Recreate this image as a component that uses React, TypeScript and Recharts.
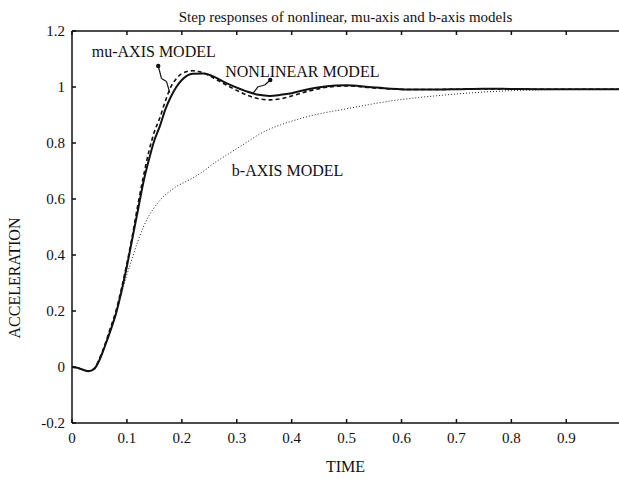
import React from 'react';
import { LineChart, Line, XAxis, YAxis, ReferenceLine, ReferenceDot, Label } from 'recharts';

// time axis (s)
const time = [
  0, 0.01, 0.02, 0.03, 0.04, 0.05, 0.06, 0.07, 0.08, 0.09, 0.1, 0.11, 0.12, 0.13, 0.14, 0.15,
  0.16, 0.17, 0.18, 0.19, 0.2, 0.22, 0.24, 0.26, 0.28, 0.3, 0.32, 0.34, 0.36, 0.38, 0.4, 0.43,
  0.46, 0.5, 0.54, 0.58, 0.62, 0.66, 0.7, 0.75, 0.8, 0.85, 0.9, 0.95, 1.0,
];

const nonlinear = [
  0, -0.003, -0.01, -0.015, -0.008, 0.025, 0.075, 0.13, 0.19, 0.27, 0.36, 0.46, 0.56, 0.66, 0.74, 0.81,
  0.86, 0.92, 0.965, 1.0, 1.025, 1.047, 1.048, 1.035, 1.015, 0.998, 0.983, 0.972, 0.968, 0.972, 0.978, 0.992,
  1.002, 1.006, 1.0, 0.994, 0.991, 0.991, 0.992, 0.994, 0.993, 0.992, 0.992, 0.992, 0.992,
];

const muAxis = [
  0, -0.003, -0.01, -0.014, -0.006, 0.03, 0.08, 0.14, 0.2, 0.28, 0.37, 0.47, 0.58, 0.68, 0.77, 0.84,
  0.89, 0.95, 1.0, 1.03, 1.048, 1.058, 1.05, 1.03, 1.008, 0.988, 0.97, 0.958, 0.954, 0.958, 0.968, 0.985,
  0.998, 1.004, 0.998, 0.993, 0.991, 0.991, 0.992, 0.993, 0.993, 0.992, 0.992, 0.992, 0.992,
];

const bAxis = [
  0, -0.003, -0.01, -0.015, -0.008, 0.025, 0.075, 0.13, 0.19, 0.26, 0.33, 0.39, 0.45, 0.5, 0.54, 0.57,
  0.595, 0.615, 0.63, 0.645, 0.655, 0.675, 0.7, 0.73, 0.755, 0.78, 0.805, 0.83, 0.85, 0.865, 0.878, 0.895,
  0.908, 0.922, 0.937, 0.95, 0.96, 0.968, 0.975, 0.982, 0.987, 0.99, 0.991, 0.992, 0.992,
];

const xTicks = [0, 0.1, 0.2, 0.3, 0.4, 0.5, 0.6, 0.7, 0.8, 0.9];
const yTicks = [-0.2, 0, 0.2, 0.4, 0.6, 0.8, 1, 1.2];

// leader lines from the labels to the curves
const muPointer = [
  { x: 0.157, y: 1.075 },
  { x: 0.163, y: 1.03 },
  { x: 0.172, y: 1.02 },
  { x: 0.178, y: 0.98 },
];
const nlPointer = [
  { x: 0.361, y: 1.025 },
  { x: 0.351, y: 1.007 },
  { x: 0.339, y: 1.001 },
  { x: 0.33, y: 0.979 },
];

const data = time.map((t, i) => ({ t, nl: nonlinear[i], mu: muAxis[i], b: bAxis[i] }));

const font = '"Liberation Serif", "Times New Roman", serif';

const fmt = (v: number) => (v === 0 ? '0' : v === 1 ? '1' : v.toFixed(1));

const App: React.FC = () => {
  return (
    <div style={{ position: 'absolute', left: 0, top: 0, width: 619, height: 480, background: '#fff', fontFamily: font }}>
      <div
        style={{
          position: 'absolute',
          left: 72,
          width: 547,
          top: 9,
          textAlign: 'center',
          fontSize: 15,
          lineHeight: '17px',
          color: '#111',
        }}
      >
        Step responses of nonlinear, mu-axis and b-axis models
      </div>
      <div
        style={{
          position: 'absolute',
          left: 15,
          top: 278,
          transform: 'translate(-50%, -50%) rotate(-90deg)',
          whiteSpace: 'nowrap',
          fontSize: 16,
          color: '#111',
        }}
      >
        ACCELERATION
      </div>
      <LineChart
        width={619}
        height={480}
        data={data}
        margin={{ top: 30, right: 0, bottom: 27, left: 8 }}
        style={{ fontFamily: font }}
      >
        <XAxis
          dataKey="t"
          type="number"
          domain={[0, 0.996]}
          allowDataOverflow
          ticks={xTicks}
          tickFormatter={fmt}
          height={30}
          stroke="#111"
          strokeWidth={1.5}
          tickSize={-4}
          tickMargin={13}
          tick={{ fill: '#111', fontSize: 15 }}
        >
          <Label value="TIME" position="bottom" offset={8} style={{ fill: '#111', fontSize: 16 }} />
        </XAxis>
        <XAxis
          xAxisId="top"
          dataKey="t"
          type="number"
          orientation="top"
          domain={[0, 0.996]}
          allowDataOverflow
          ticks={xTicks}
          tickFormatter={() => ''}
          height={1}
          stroke="#111"
          strokeWidth={1.5}
          tickSize={-4}
        />
        <YAxis
          type="number"
          domain={[-0.2, 1.2]}
          ticks={yTicks}
          tickFormatter={fmt}
          width={64}
          stroke="#111"
          strokeWidth={1.5}
          tickSize={-4}
          tickMargin={11}
          tick={{ fill: '#111', fontSize: 15 }}
        />

        <Line dataKey="b" type="monotone" stroke="#222" strokeWidth={1} strokeDasharray="1 2" dot={false} isAnimationActive={false} />
        <Line dataKey="mu" type="monotone" stroke="#111" strokeWidth={1.6} strokeDasharray="4 3" dot={false} isAnimationActive={false} />
        <Line dataKey="nl" type="monotone" stroke="#111" strokeWidth={2} dot={false} isAnimationActive={false} />

        {muPointer.slice(1).map((p, i) => (
          <ReferenceLine key={'mu' + i} segment={[muPointer[i], p]} stroke="#111" strokeWidth={1.2} />
        ))}
        {nlPointer.slice(1).map((p, i) => (
          <ReferenceLine key={'nl' + i} segment={[nlPointer[i], p]} stroke="#111" strokeWidth={1.2} />
        ))}
        <ReferenceDot x={muPointer[0].x} y={muPointer[0].y} r={2.2} fill="#111" stroke="none" />
        <ReferenceDot x={nlPointer[0].x} y={nlPointer[0].y} r={2.2} fill="#111" stroke="none" />

        <ReferenceDot x={0.036} y={1.129} r={0} fill="none" stroke="none">
          <Label value="mu-AXIS MODEL" position="right" offset={0} style={{ fill: '#111', fontSize: 16 }} />
        </ReferenceDot>
        <ReferenceDot x={0.279} y={1.055} r={0} fill="none" stroke="none">
          <Label value="NONLINEAR MODEL" position="right" offset={0} style={{ fill: '#111', fontSize: 16 }} />
        </ReferenceDot>
        <ReferenceDot x={0.291} y={0.704} r={0} fill="none" stroke="none">
          <Label value="b-AXIS MODEL" position="right" offset={0} style={{ fill: '#111', fontSize: 16 }} />
        </ReferenceDot>
      </LineChart>
    </div>
  );
};

export default App;
